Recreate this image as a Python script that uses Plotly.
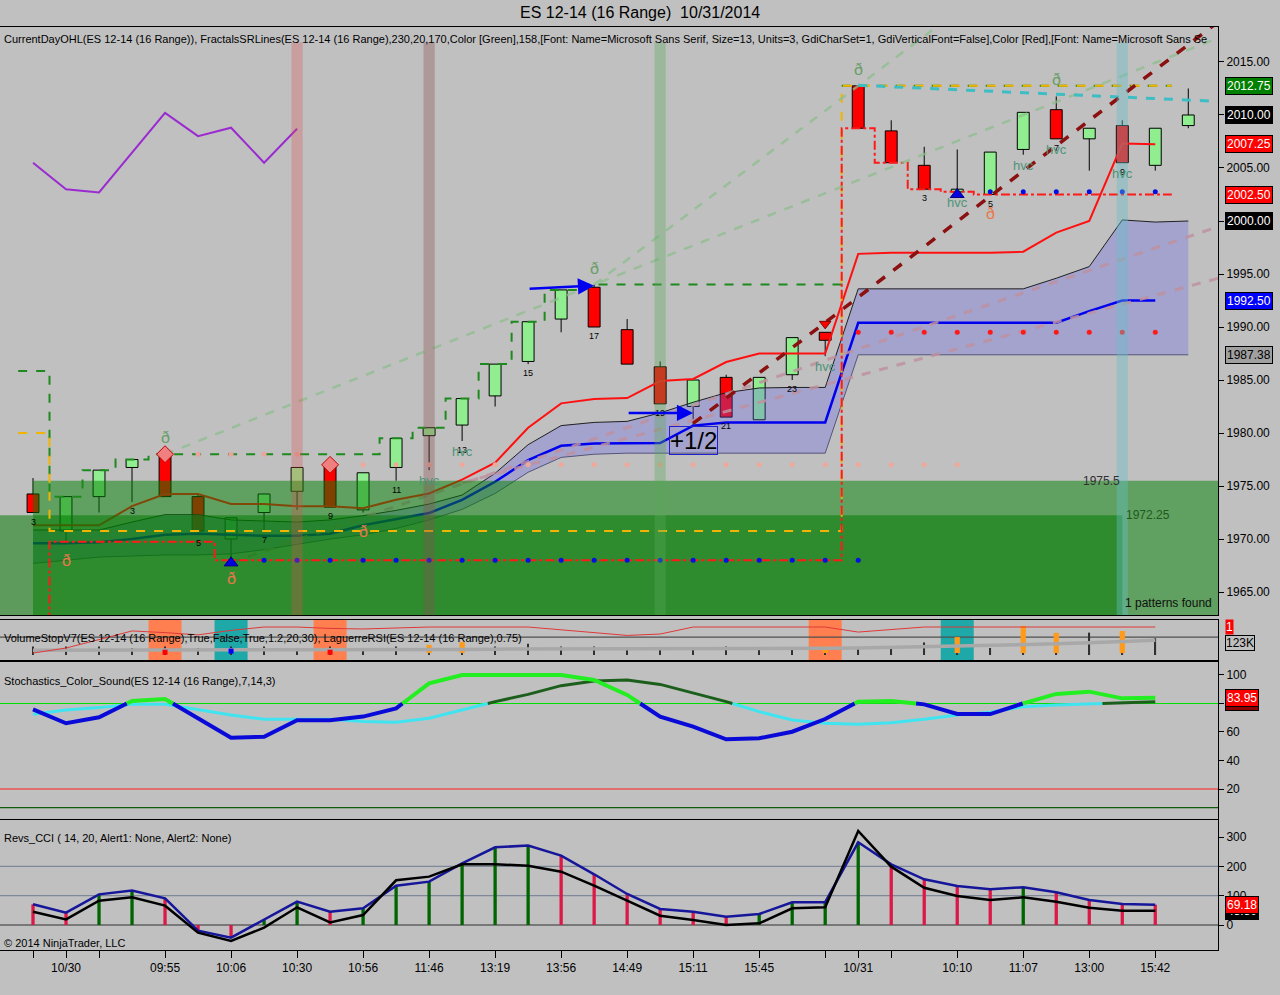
import numpy as np
import plotly.graph_objects as go

# ---- ES 12-14 (16 Range): last bar of 10/29, then 10/30, then 10/31 ----
bars = list(range(36))
opens = [1974.25, 1970.75, 1974.0, 1976.75, 1978.0, 1974.0, 1970.0, 1972.5, 1974.5, 1977.0,
         1972.75, 1976.75, 1979.75, 1980.75, 1983.5, 1986.75, 1990.75, 1993.75, 1989.75, 1986.25,
         1982.5, 1985.25, 1981.25, 1985.5, 1989.5, 2012.75, 2008.5, 2005.25, 2002.75, 2002.5,
         2006.75, 2010.5, 2007.75, 2009.0, 2005.25, 2009.0]
highs = [1975.75, 1974.0, 1976.5, 1977.5, 1978.0, 1974.25, 1972.0, 1974.25, 1976.75, 1977.0,
         1976.25, 1979.5, 1980.5, 1983.25, 1986.5, 1990.5, 1993.5, 1994.0, 1990.75, 1986.75,
         1985.0, 1985.5, 1985.25, 1989.0, 1989.5, 2012.75, 2009.5, 2007.0, 2006.75, 2006.5,
         2010.25, 2011.75, 2008.75, 2009.5, 2008.75, 2012.5]
lows = [1972.5, 1969.75, 1972.5, 1973.5, 1974.0, 1970.5, 1968.0, 1970.75, 1972.75, 1973.0,
        1972.5, 1975.5, 1976.5, 1979.25, 1982.5, 1986.5, 1989.5, 1990.0, 1986.5, 1982.75,
        1980.75, 1981.5, 1981.25, 1985.0, 1987.25, 2008.75, 2005.5, 2003.0, 2002.75, 2002.5,
        2006.25, 2007.75, 2004.75, 2005.5, 2004.75, 2008.75]
closes = [1972.5, 1974.0, 1976.5, 1977.5, 1974.0, 1970.75, 1972.0, 1974.25, 1976.75, 1973.0,
          1976.25, 1979.5, 1980.5, 1983.25, 1986.5, 1990.5, 1993.5, 1990.0, 1986.5, 1982.75,
          1985.0, 1981.5, 1985.25, 1989.0, 1988.75, 2008.75, 2005.5, 2003.0, 2003.0, 2006.5,
          2010.25, 2007.75, 2008.75, 2005.5, 2008.75, 2010.0]

tick_bars = [0, 1, 2, 4, 6, 8, 10, 12, 14, 16, 18, 20, 22, 24, 25, 26, 28, 30, 32, 34]
tick_text = ["", "10/30", "", "09:55", "10:06", "10:30", "10:56", "11:46", "13:19", "13:56",
             "14:49", "15:11", "15:45", "", "10/31", "", "10:10", "11:07", "13:00", "15:42"]

# indicators on the price panel
purple_bars = [0, 1, 2, 4, 5, 6, 7, 8]
purple_vals = [2005.5, 2003.0, 2002.7, 2010.2, 2008.0, 2008.8, 2005.5, 2008.7]

band_upper = [1970.85, 1970.85, 1970.85, 1971.6, 1972.3, 1972.3, 1971.8, 1971.7, 1971.6, 1971.8,
              1972.2, 1972.7, 1973.3, 1974.15, 1976.2, 1978.9, 1980.7, 1981.0, 1981.1, 1981.9,
              1982.9, 1983.8, 1984.25, 1984.3, 1984.3, 1993.6, 1993.6, 1993.6, 1993.6, 1993.6,
              1993.6, 1994.6, 1995.7, 2000.1, 1999.9, 2000.0]
band_lower = [1967.7, 1968.0, 1968.3, 1968.4, 1968.5, 1968.5, 1968.6, 1969.0, 1969.5, 1970.0,
              1970.4, 1971.0, 1971.8, 1972.8, 1974.3, 1976.3, 1977.7, 1978.0, 1978.1, 1978.1,
              1978.1, 1978.1, 1978.1, 1978.1, 1978.1, 1987.38, 1987.38, 1987.38, 1987.38, 1987.38,
              1987.38, 1987.38, 1987.38, 1987.38, 1987.38, 1987.38]
band_mid = [1969.6, 1969.6, 1969.7, 1970.0, 1970.4, 1970.5, 1970.4, 1970.3, 1970.3, 1970.5,
            1971.3, 1971.9, 1972.45, 1973.7, 1975.4, 1977.45, 1978.8, 1979.0, 1979.0, 1979.05,
            1980.7, 1981.0, 1981.0, 1981.0, 1981.0, 1990.4, 1990.4, 1990.4, 1990.4, 1990.4,
            1990.4, 1990.4, 1991.5, 1992.5, 1992.5]
red_band = [1971.3, 1971.3, 1971.3, 1973.1, 1974.25, 1974.25, 1973.3, 1973.3, 1973.1, 1973.1,
            1972.9, 1973.7, 1974.3, 1975.6, 1977.2, 1980.5, 1982.8, 1983.2, 1983.3, 1984.9,
            1985.1, 1986.7, 1987.5, 1987.5, 1987.5, 1996.9, 1997.0, 1997.0, 1997.0, 1997.0,
            1997.1, 1998.9, 2000.0, 2007.3, 2007.25]

zone_levels = [1975.5, 1972.25]
zone_start = [0, -1.5]
zone_end = [37, 33]
zone_fill = ["rgba(0,128,0,0.5)", "rgba(0,120,0,0.52)"]

day_first = [1, 25]
day_last = [24, 34]
prev_open, prev_high, prev_low = 1980.0, 1985.85, 1955.0

res_dot_level = [1978.0, 1977.0, 1989.5]
res_dot_from = [5, 10, 25]
res_dot_to = [8, 28, 34]
res_dot_color = ["#EBA39B", "#EFA89A", "#FF1A1A"]
sup_dot_level = [1968.0, 2002.75]
sup_dot_from = [7, 29]
sup_dot_to = [25, 34]

diamond_bars = [4, 9]
triangle_bars = [6, 28]
funnel_bar = 24
fan_anchor_a = [4, 17]
fan_anchor_b = [17, 25]
trend_x = [20, 36.5]
trend_y = [1980.9, 2020.2]
mauve_x = [[6, 36.5], [13, 36.5]]
mauve_y = [[1967.8, 2000.1], [1975.3, 1995.1]]
cyan_x = [25, 36.5]
cyan_y = [2012.8, 2011.2]

count_bars = [0, 3, 5, 7, 9, 11, 13, 15, 17, 19, 21, 23, 27, 29, 31, 33]
count_text = ["3", "3", "5", "7", "9", "11", "13", "15", "17", "19", "21", "23", "3", "5", "7", "9"]
hvc_bars = [12, 13, 24, 28, 30, 31, 33]
eth_hi_bars = [4, 17, 25, 31]
eth_lo_bars = [1, 6, 10, 29]
arrow_tail = [(15, 1993.6), (18, 1981.9)]
arrow_head = [(17, 1993.9), (20, 1981.9)]
hilite_bars = [8, 12, 19, 33]
hilite_color = ["rgba(220,80,80,0.3)", "rgba(140,80,80,0.35)",
                "rgba(90,170,90,0.35)", "rgba(100,190,200,0.4)"]

# VolumeStopV7 / LaguerreRSI panel
lag_rsi = [0.07, 0.25, 0.55, 0.86, 0.80, 0.72, 0.88, 1.0, 1.0, 0.95,
           0.93, 0.97, 1.0, 1.0, 1.0, 1.0, 0.9, 0.79, 0.7, 0.75,
           1.0, 1.0, 1.0, 1.0, 1.0, 0.82, 0.9, 1.0, 1.0, 1.0,
           1.0, 1.0, 1.0, 1.0, 1.0]
daily_vol = [0.17, 0.17, 0.17, 0.18, 0.18, 0.18, 0.18, 0.18, 0.19, 0.19,
             0.19, 0.2, 0.2, 0.2, 0.21, 0.21, 0.22, 0.22, 0.23, 0.23,
             0.23, 0.23, 0.22, 0.23, 0.24, 0.25, 0.27, 0.29, 0.31, 0.34,
             0.37, 0.4, 0.44, 0.49, 0.53]
vol_ticks = [0.3, 0.3, 0.3, 0.25, 0.3, 0.25, 0.3, 0.3, 0.25, 0.3,
             0.25, 0.3, 0.3, 0.25, 0.3, 0.4, 0.3, 0.3, 0.25, 0.25,
             0.25, 0.3, 0.25, 0.25, 0.3, 0.25, 0.25, 0.45, 0.25, 0.25,
             0.25, 0.3, 0.8, 0.3, 0.6]
signal_bars = [12, 13, 24, 28, 30, 31, 33]
signal_tops = [0.36, 0.46, 0.32, 0.64, 1.04, 0.79, 0.86]
coral_bars = [4, 9, 24]
teal_bars = [6, 28]
dot_red_bars = [4, 9]
dot_blue_bars = [6]

# Stochastics_Color_Sound
stoch_k = [75.9, 66.1, 70.3, 81.8, 83.2, 69.6, 56.0, 56.7, 68.2, 68.2,
           70.8, 76.6, 94.1, 100.0, 100.0, 100.0, 100.0, 96.5, 86.0, 70.8,
           63.8, 54.9, 55.6, 60.2, 69.1, 81.3, 81.8, 79.4, 72.6, 72.6,
           80.1, 86.7, 88.3, 83.6, 83.95]
stoch_d = [72.4, 75.4, 77.1, 79.4, 79.4, 75.4, 71.9, 68.9, 68.9, 68.9,
           67.3, 66.8, 69.6, 75.4, 81.3, 86.4, 92.5, 95.8, 96.5, 93.4,
           87.6, 81.3, 74.3, 68.4, 66.1, 65.4, 66.5, 68.9, 71.9, 73.8,
           77.8, 78.9, 79.6, 80.6, 81.3]

# Revs_CCI
cci = [70.6, 42.0, 104.6, 118.0, 91.0, -19.3, -43.0, 17.0, 79.6, 45.5,
       57.0, 134.0, 148.0, 210.0, 265.0, 271.0, 236.5, 173.0, 105.8, 54.6,
       45.5, 28.3, 37.5, 77.4, 78.0, 282.0, 207.0, 156.0, 133.0, 122.0,
       128.6, 111.5, 85.3, 71.7, 69.18]
cci_avg = [45.5, 19.3, 83.0, 94.5, 66.0, -26.0, -54.6, -9.0, 60.4, 9.0,
           34.0, 152.5, 165.0, 207.0, 207.0, 202.4, 182.0, 134.0, 83.0, 31.8,
           17.0, 0.0, 5.7, 57.0, 60.4, 321.0, 199.0, 127.0, 99.0, 85.3,
           94.5, 79.6, 59.0, 48.8, 48.8]

FONT = "Liberation Sans, Arial, sans-serif"
BG = "#C0C0C0"
XR = [-1.0, 35.9]


def split_at(xs, ys, level):
    # cut a polyline where it crosses level, return (above, below) pieces
    pts = [(xs[0], ys[0])]
    for i in range(1, len(xs)):
        y0, y1 = ys[i - 1], ys[i]
        if (y0 - level) * (y1 - level) < 0:
            t = (level - y0) / (y1 - y0)
            pts.append((xs[i - 1] + t * (xs[i] - xs[i - 1]), level))
        pts.append((xs[i], y1))
    hi, lo = ([], []), ([], [])
    last = None
    for (xa, ya), (xb, yb) in zip(pts[:-1], pts[1:]):
        side = hi if (ya + yb) / 2 >= level else lo
        if side is not last:
            if side[0]:
                side[0].append(None)
                side[1].append(None)
            side[0].extend([xa, xb])
            side[1].extend([ya, yb])
        else:
            side[0].append(xb)
            side[1].append(yb)
        last = side
    return hi, lo


def line(x, y, color, width=1, dash="solid", ax="", shape="linear", **kw):
    return go.Scatter(x=x, y=y, mode="lines", line=dict(color=color, width=width, dash=dash, shape=shape),
                      xaxis="x" + ax, yaxis="y" + ax, hoverinfo="skip", **kw)


fig = go.Figure()

# ---------------- price panel ----------------
body_lo = [min(o, c) for o, c in zip(opens, closes)]
body_h = [max(abs(c - o), 0.15) for o, c in zip(opens, closes)]
body_col = ["#90EE90" if c >= o else "#FF0000" for o, c in zip(opens, closes)]
fig.add_trace(go.Bar(x=bars, y=body_h, base=body_lo, width=0.36, xaxis="x", yaxis="y",
                     marker=dict(color=body_col, line=dict(color="black", width=1)), hoverinfo="skip"))
wx, wy = [], []
for b, o, h, l, c in zip(bars, opens, highs, lows, closes):
    if h > max(o, c):
        wx += [b, b, None]
        wy += [max(o, c), h, None]
    if l < min(o, c):
        wx += [b, b, None]
        wy += [min(o, c), l, None]
fig.add_trace(line(wx, wy, "black", 1))

fig.add_trace(line(purple_bars, purple_vals, "#9A2BD0", 2))
fig.add_trace(line(bars, band_lower, "#55557A", 1))
fig.add_trace(line(bars, band_upper, "#202020", 1, fill="tonexty", fillcolor="rgba(95,95,235,0.3)"))
fig.add_trace(line(bars[:35], band_mid, "#0000EE", 2.5))
fig.add_trace(line(bars[:35], red_band, "#FF1010", 2))
for mx, my in zip(mauve_x, mauve_y):
    fig.add_trace(line(mx, my, "rgba(190,145,160,0.85)", 3, "dash"))

for lvl, x0, x1, fc in zip(zone_levels, zone_start, zone_end, zone_fill):
    fig.add_trace(go.Scatter(x=[x0, x1, x1, x0, x0], y=[1950, 1950, lvl, lvl, 1950], mode="lines",
                             line=dict(width=0), fill="toself", fillcolor=fc, hoverinfo="skip"))

# CurrentDayOHL lines built from the bars of each session
hx, hy, ox, oy, lx, ly = [-0.45], [prev_high], [-0.45], [prev_open], [-0.45], [prev_low]
for k, (f, t) in enumerate(zip(day_first, day_last)):
    seg = range(f, t + 1)
    xs = [b - 0.5 for b in seg] + [t + 0.5]
    run_hi = list(np.maximum.accumulate(highs[f:t + 1]))
    run_lo = list(np.minimum.accumulate(lows[f:t + 1]))
    if k > 0:
        hx.append(None)
        hy.append(None)
    hx += xs
    hy += run_hi + [run_hi[-1]]
    ox += xs
    oy += [opens[f]] * (len(xs))
    lx += xs
    ly += run_lo + [run_lo[-1]]
fig.add_trace(line(hx, hy, "#1E8A1E", 2, "dash", shape="hv"))
fig.add_trace(line(ox, oy, "#F2B400", 2, "dash", shape="hv"))
fig.add_trace(line(lx, ly, "#FF1A1A", 2, "dashdot", shape="hv"))

for lvl, f, t, col in zip(res_dot_level, res_dot_from, res_dot_to, res_dot_color):
    fig.add_trace(go.Scatter(x=list(range(f, t + 1)), y=[lvl] * (t - f + 1), mode="markers",
                             marker=dict(color=col, size=5), hoverinfo="skip"))
for lvl, f, t in zip(sup_dot_level, sup_dot_from, sup_dot_to):
    fig.add_trace(go.Scatter(x=list(range(f, t + 1)), y=[lvl] * (t - f + 1), mode="markers",
                             marker=dict(color="#0010E0", size=5), hoverinfo="skip"))

for a, b in zip(fan_anchor_a, fan_anchor_b):
    slope = (highs[b] - highs[a]) / (b - a)
    fig.add_trace(line([a, 37], [highs[a], highs[a] + slope * (37 - a)], "rgba(140,190,140,0.75)", 2.5, "dash"))
fig.add_trace(line(cyan_x, cyan_y, "#3DBDC4", 3, "dash"))
fig.add_trace(line(trend_x, trend_y, "#8B1010", 3.5, "dash"))

fig.add_trace(go.Scatter(x=diamond_bars, y=[highs[b] for b in diamond_bars], mode="markers", hoverinfo="skip",
                         marker=dict(symbol="diamond", size=13, color="#F08080", line=dict(color="#C00000", width=1))))
fig.add_trace(go.Scatter(x=triangle_bars, y=[lows[b] - 0.25 for b in triangle_bars], mode="markers", hoverinfo="skip",
                         marker=dict(symbol="triangle-up", size=12, color="#0000E0", line=dict(color="#000080", width=1))))
fig.add_trace(go.Scatter(x=[funnel_bar], y=[highs[funnel_bar] + 0.8], mode="markers", hoverinfo="skip",
                         marker=dict(symbol="triangle-down", size=10, color="#FF0000", line=dict(color="#800000", width=1))))

# ---------------- VolumeStop / Laguerre panel ----------------
fig.add_trace(go.Bar(x=bars[:35], y=vol_ticks, base=0, width=0.05, xaxis="x2", yaxis="y2",
                     marker=dict(color="#303030", line=dict(width=0)), hoverinfo="skip"))
fig.add_trace(go.Bar(x=signal_bars, y=[t - 0.07 for t in signal_tops], base=0.07, width=0.16, xaxis="x2", yaxis="y2",
                     marker=dict(color="#FF9A1A", line=dict(width=0)), hoverinfo="skip"))
fig.add_trace(line(bars[:35], daily_vol, "#A8A8A8", 3.5, ax="2"))
fig.add_trace(line(bars[:35], lag_rsi, "#E03838", 1, ax="2"))
fig.add_trace(go.Scatter(x=dot_red_bars + dot_blue_bars, y=[0.1] * len(dot_red_bars) + [0.14] * len(dot_blue_bars),
                         mode="markers", xaxis="x2", yaxis="y2", hoverinfo="skip",
                         marker=dict(symbol="square", size=5,
                                     color=["#FF0000"] * len(dot_red_bars) + ["#0000FF"] * len(dot_blue_bars))))

# ---------------- Stochastics panel ----------------
d_hi, d_lo = split_at(bars[:35], stoch_d, 80)
k_hi, k_lo = split_at(bars[:35], stoch_k, 80)
fig.add_trace(line(d_lo[0], d_lo[1], "#40E4F0", 3, ax="3"))
fig.add_trace(line(d_hi[0], d_hi[1], "#1C5F1C", 3, ax="3"))
fig.add_trace(line(k_lo[0], k_lo[1], "#0A0AD8", 4, ax="3"))
fig.add_trace(line(k_hi[0], k_hi[1], "#22EE22", 4, ax="3"))

# ---------------- CCI panel ----------------
stem_col = ["#DC1846" if i == 0 or cci[i] <= cci[i - 1] else "#006400" for i in range(len(cci))]
fig.add_trace(go.Bar(x=bars[:35], y=cci, base=0, width=0.1, xaxis="x4", yaxis="y4",
                     marker=dict(color=stem_col, line=dict(width=0)), hoverinfo="skip"))
fig.add_trace(line(bars[:35], cci, "#16169A", 2.5, ax="4"))
fig.add_trace(line(bars[:35], cci_avg, "#000000", 2.5, ax="4"))

# ---------------- value tags on the right ----------------
tags = [
    ("y", max(highs[25:35]), "#008000", "white"),
    ("y", closes[-1], "#000000", "white"),
    ("y", red_band[-1], "#FF0000", "white"),
    ("y", min(lows[25:35]), "#FF0000", "white"),
    ("y", band_upper[-1], "#000000", "white"),
    ("y", band_mid[-1], "#0000FF", "white"),
    ("y", band_lower[-1], "#A0A0A0", "black"),
    ("y3", stoch_d[-1], "#8B0000", "white"),
    ("y3", stoch_k[-1], "#FF0000", "white"),
    ("y4", cci_avg[-1], "#000000", "white"),
    ("y4", cci[-1], "#FF0000", "white"),
]
annotations = []
for yref, val, bg, fg in tags:
    txt = "%.2f" % val
    annotations.append(dict(x=1, xref="paper", xanchor="left", xshift=7, y=val, yref=yref, text=txt,
                            showarrow=False, bgcolor=bg, bordercolor="black", borderwidth=1, borderpad=1,
                            font=dict(color=fg, size=12, family=FONT)))
    fig.add_trace(go.Scatter(x=[36.03], y=[val], mode="markers", cliponaxis=False, hoverinfo="skip",
                             xaxis="x" + yref[1:], yaxis=yref,
                             marker=dict(symbol="triangle-left", size=11, color=bg, line=dict(color="black", width=1))))
annotations.append(dict(x=1, xref="paper", xanchor="left", xshift=7, y=lag_rsi[-1], yref="y2", text="1",
                        showarrow=False, bgcolor="#FF0000", borderpad=0, font=dict(color="white", size=12)))
annotations.append(dict(x=1, xref="paper", xanchor="left", xshift=7, y=0.43, yref="y2", text="123K",
                        showarrow=False, bgcolor=BG, bordercolor="black", borderwidth=1, borderpad=0,
                        font=dict(color="black", size=12)))

# ---------------- text on the price panel ----------------
for b, t in zip(count_bars, count_text):
    annotations.append(dict(x=b, y=lows[b], yanchor="top", yshift=-2, text=t, showarrow=False,
                            font=dict(size=9, color="black")))
for b in hvc_bars:
    annotations.append(dict(x=b, y=lows[b], yanchor="top", yshift=-1, text="hvc", showarrow=False,
                            font=dict(size=13, color="#4E9478")))
for b in eth_hi_bars:
    annotations.append(dict(x=b, y=highs[b], yanchor="bottom", yshift=6, text="ð", showarrow=False,
                            font=dict(size=16, color="#6A9E6A")))
for b in eth_lo_bars:
    annotations.append(dict(x=b, y=lows[b], yanchor="top", yshift=-8, text="ð", showarrow=False,
                            font=dict(size=16, color="#E8784A")))
for (tx, ty), (hx_, hy_) in zip(arrow_tail, arrow_head):
    annotations.append(dict(x=hx_, y=hy_, ax=tx, ay=ty, axref="x", ayref="y", xref="x", yref="y", text="",
                            showarrow=True, arrowhead=2, arrowsize=1.3, arrowwidth=2.5, arrowcolor="#0000F0"))
annotations.append(dict(x=20, y=1979.3, text="+1/2", showarrow=False, bordercolor="#2020D0", borderwidth=1,
                        borderpad=0, font=dict(size=24, color="black", family=FONT)))
annotations.append(dict(x=33, y=zone_levels[0], xanchor="right", text="1975.5", showarrow=False,
                        font=dict(size=12, color="#303030")))
annotations.append(dict(x=33, y=zone_levels[1], xanchor="left", xshift=2, text="1972.25", showarrow=False,
                        font=dict(size=12, color="#1E5A1E")))
annotations.append(dict(x=1, xref="paper", xanchor="right", xshift=-4, y=1964.0, text="1 patterns found",
                        showarrow=False, font=dict(size=12, color="#101010")))

# panel captions and title
D_MAIN = [0.3629, 1.0]
D_VOL = [0.3131, 0.3575]
D_STO = [0.1419, 0.3131]
D_CCI = [0.0, 0.1408]
captions = [
    (D_MAIN[1], -4, "CurrentDayOHL(ES 12-14 (16 Range)), FractalsSRLines(ES 12-14 (16 Range),230,20,170,Color [Green],158,"
                    "[Font: Name=Microsoft Sans Serif, Size=13, Units=3, GdiCharSet=1, GdiVerticalFont=False],Color [Red],"
                    "[Font: Name=Microsoft Sans Se"),
    (D_VOL[1], -10, "VolumeStopV7(ES 12-14 (16 Range),True,False,True,1.2,20,30), LaguerreRSI(ES 12-14 (16 Range),0.75)"),
    (D_STO[1], -12, "Stochastics_Color_Sound(ES 12-14 (16 Range),7,14,3)"),
    (D_CCI[1], -10, "Revs_CCI ( 14, 20, Alert1: None, Alert2: None)"),
]
for top, shift, txt in captions:
    annotations.append(dict(x=0, xref="paper", xanchor="left", xshift=2, y=top, yref="paper", yanchor="top",
                            yshift=shift, text=txt, showarrow=False, font=dict(size=11, color="black")))
annotations.append(dict(x=0, xref="paper", xanchor="left", xshift=2, y=-61, yref="y4",
                        text="© 2014 NinjaTrader, LLC", showarrow=False, font=dict(size=11, color="black")))
annotations.append(dict(x=640 / 1218, xref="paper", y=1, yref="paper", yanchor="bottom", yshift=4,
                        text="ES 12-14 (16 Range)  10/31/2014", showarrow=False,
                        font=dict(size=16, color="black")))

# ---------------- shapes ----------------
shapes = []
for b, col in zip(hilite_bars, hilite_color):
    shapes.append(dict(type="rect", xref="x", yref="y domain", x0=b - 0.17, x1=b + 0.17, y0=0, y1=0.974,
                       fillcolor=col, line=dict(width=0), layer="above"))
for b in coral_bars:
    shapes.append(dict(type="rect", xref="x2", yref="y2 domain", x0=b - 0.5, x1=b + 0.5, y0=0, y1=1,
                       fillcolor="#FF7F50", line=dict(width=0), layer="below"))
for b in teal_bars:
    shapes.append(dict(type="rect", xref="x2", yref="y2 domain", x0=b - 0.5, x1=b + 0.5, y0=0, y1=1,
                       fillcolor="#1FA8A8", line=dict(width=0), layer="below"))
for yref, val, col in [("y2", 0.64, "#505050"), ("y3", 80, "#00E000"), ("y3", 20, "#FF2020"),
                       ("y3", 7, "#0E5A0E"), ("y4", 0, "#303030"), ("y4", 100, "#7E8898"),
                       ("y4", 200, "#7E8898")]:
    shapes.append(dict(type="line", xref="paper", yref=yref, x0=0, x1=1, y0=val, y1=val,
                       line=dict(color=col, width=1.2), layer="below"))


def xax(anchor, **kw):
    d = dict(domain=[0, 1], anchor=anchor, range=XR, showgrid=False, zeroline=False, showline=True,
             mirror=True, linecolor="black", linewidth=1, showticklabels=False, ticks="")
    d.update(kw)
    return d


def yax(anchor, dom, rng, **kw):
    d = dict(domain=dom, anchor=anchor, range=rng, side="right", showgrid=False, zeroline=False,
             showline=True, mirror=True, linecolor="black", linewidth=1, ticks="outside", ticklen=5,
             tickcolor="black", tickfont=dict(size=12, color="black"))
    d.update(kw)
    return d


fig.update_layout(
    width=1280, height=995, paper_bgcolor=BG, plot_bgcolor=BG,
    margin=dict(l=0, r=62, t=27, b=45), showlegend=False, barmode="overlay",
    font=dict(family=FONT, size=11, color="black"),
    xaxis=xax("y"), xaxis2=xax("y2"), xaxis3=xax("y3"),
    xaxis4=xax("y4", showticklabels=True, ticks="outside", ticklen=7, tickcolor="black",
               tickvals=tick_bars, ticktext=tick_text, tickfont=dict(size=12, color="black")),
    yaxis=yax("x", D_MAIN, [1962.83, 2018.3], tick0=1965, dtick=5, tickformat=".2f"),
    yaxis2=yax("x2", D_VOL, [-0.214, 1.25], showticklabels=False, ticks=""),
    yaxis3=yax("x3", D_STO, [-1.05, 109.8], tickvals=[20, 40, 60, 80, 100]),
    yaxis4=yax("x4", D_CCI, [-85.2, 358.0], tickvals=[0, 100, 200, 300]),
    annotations=annotations, shapes=shapes,
)

fig.write_html("out.html", config={"displayModeBar": False},
               post_script="document.body.style.margin='0';document.body.style.overflow='hidden';")
